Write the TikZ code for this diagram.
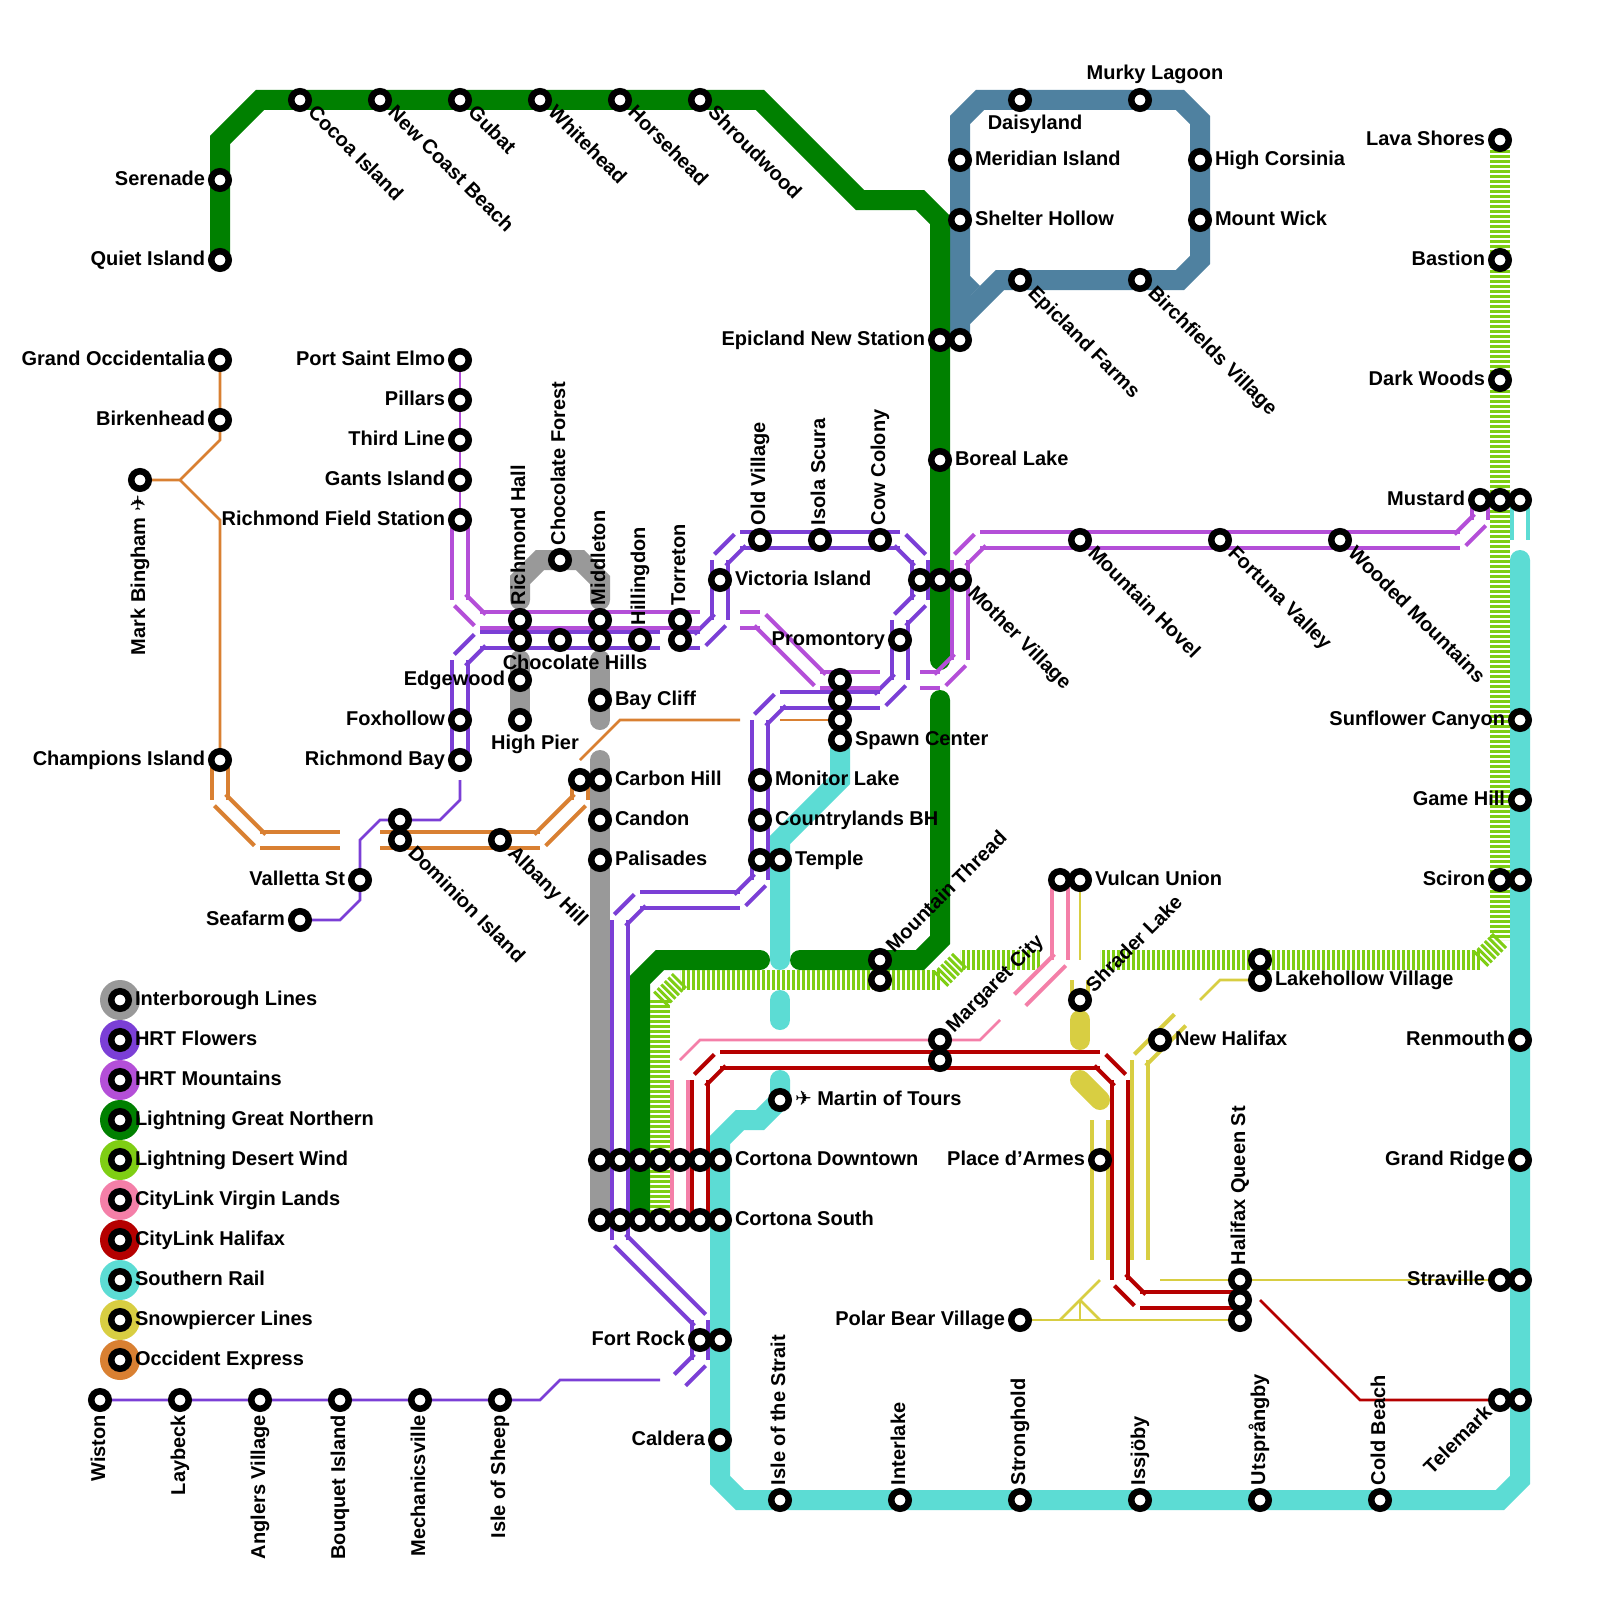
\documentclass[tikz,border=0pt]{standalone}
\usepackage{fontspec}
\setmainfont{Liberation Sans}
\newfontfamily\symfnt{DejaVu Sans}
\usetikzlibrary{calc,backgrounds}
\definecolor{cgrey}{HTML}{999999}
\definecolor{cflow}{HTML}{7B3FD6}
\definecolor{cmount}{HTML}{B44FD8}
\definecolor{cgn}{HTML}{008000}
\definecolor{cdw}{HTML}{7FCE14}
\definecolor{cvir}{HTML}{F47FA8}
\definecolor{chal}{HTML}{B50000}
\definecolor{csou}{HTML}{5CDCD4}
\definecolor{csno}{HTML}{D8CE42}
\definecolor{cocc}{HTML}{D98032}
\definecolor{cblu}{HTML}{4F81A0}
\tikzset{
  stn/.style={circle,draw=black,fill=white,line width=6.5pt,minimum size=17.5pt,inner sep=0pt,outer sep=0pt},
  lb/.style={inner sep=0pt,outer sep=0pt,font=\bfseries\fontsize{20}{24}\selectfont,text=black},
  R/.style={shift={(15,5.5)},anchor=base west},
  L/.style={shift={(-15,5.5)},anchor=base east},
  U/.style={shift={(5,-15)},rotate=90,anchor=base west},
  D/.style={shift={(5,15)},rotate=90,anchor=base east},
  DR/.style={shift={(7,14)},rotate=-45,anchor=base west},
  UR/.style={shift={(14,-7)},rotate=45,anchor=base west},
  DL/.style={shift={(-7,14)},rotate=45,anchor=base east},
  A/.style={shift={(15,-20.5)},anchor=base},
  B/.style={shift={(15,29)},anchor=base},
  thick rail/.style={line width=20pt,line join=miter},
  roundrail/.style={line width=20pt,line cap=round,line join=miter},
  hatch/.style={line width=20pt,cdw,dash pattern=on 3pt off 2pt},
  thin rail/.style={line width=2.6pt,line join=miter},
  two/.style={line width=4pt},
}
\newcommand\St[5]{\node[stn](#1) at (#2,#3){};\node[lb,#4](#1-l) at (#2,#3){#5};}
\newcommand\Sn[3]{\node[stn](#1) at (#2,#3){};}
\newcommand\pts[1]{\foreach \n/\x/\y in {#1}{\coordinate (\n) at (\x,\y);}}
\newcommand\rail[3]{\draw[#1] (#2.center) \foreach \p in {#3}{ -- (\p.center)};}
\newcommand\dbl[3]{\foreach \b [remember=\b as \a (initially #2)] in {#3}{%
  \draw[two,#1] ($(\a.center)!8pt!90:(\b.center)$) -- ($(\b.center)!8pt!-90:(\a.center)$);
  \draw[two,#1] ($(\a.center)!8pt!-90:(\b.center)$) -- ($(\b.center)!8pt!90:(\a.center)$);}}
\newcommand\hatseg[2]{\foreach \b [remember=\b as \a (initially #1)] in {#2}{%
  \draw[hatch] (\a.center) -- (\b.center);}}
\begin{document}
\begin{tikzpicture}[x=1pt,y=-1pt]
\useasboundingbox (0,0) rectangle (1600,1600);
% stations
\St{qi}{220}{260}{L}{Quiet Island}
\St{se}{220}{180}{L}{Serenade}
\St{coc}{300}{100}{DR}{Cocoa Island}
\St{ncb}{380}{100}{DR}{New Coast Beach}
\St{gub}{460}{100}{DR}{Gubat}
\St{whi}{540}{100}{DR}{Whitehead}
\St{hor}{620}{100}{DR}{Horsehead}
\St{shr}{700}{100}{DR}{Shroudwood}
\St{goc}{220}{360}{L}{Grand Occidentalia}
\St{bir}{220}{420}{L}{Birkenhead}
\St{cha}{220}{760}{L}{Champions Island}
\St{mab}{140}{480}{D}{Mark Bingham {\symfnt ✈}}
\St{pse}{460}{360}{L}{Port Saint Elmo}
\St{pil}{460}{400}{L}{Pillars}
\St{thl}{460}{440}{L}{Third Line}
\St{gan}{460}{480}{L}{Gants Island}
\St{rfs}{460}{520}{L}{Richmond Field Station}
\St{ric}{520}{620}{U}{Richmond Hall}
\Sn{ric2}{520}{640}
\St{chf}{560}{560}{U}{Chocolate Forest}
\St{mid}{600}{620}{U}{Middleton}
\Sn{mid2}{600}{640}
\St{chh}{560}{640}{B}{Chocolate Hills}
\St{hil}{640}{640}{U}{Hillingdon}
\St{tor}{680}{620}{U}{Torreton}
\Sn{tor2}{680}{640}
\St{edg}{520}{680}{L}{Edgewood}
\St{hip}{520}{720}{B}{High Pier}
\St{fox}{460}{720}{L}{Foxhollow}
\St{rib}{460}{760}{L}{Richmond Bay}
\St{bay}{600}{700}{R}{Bay Cliff}
\St{vic}{720}{580}{R}{Victoria Island}
\St{old}{760}{540}{U}{Old Village}
\St{iso}{820}{540}{U}{Isola Scura}
\St{cow}{880}{540}{U}{Cow Colony}
\Sn{mv1}{920}{580}
\Sn{mv2}{940}{580}
\St{mv3}{960}{580}{DR}{Mother Village}
\St{pro}{900}{640}{L}{Promontory}
\Sn{sp1}{840}{680}
\Sn{sp2}{840}{700}
\Sn{sp3}{840}{720}
\St{sp4}{840}{740}{R}{Spawn Center}
\St{car}{600}{780}{R}{Carbon Hill}
\Sn{car2}{580}{780}
\St{can}{600}{820}{R}{Candon}
\St{pal}{600}{860}{R}{Palisades}
\St{mon}{760}{780}{R}{Monitor Lake}
\St{cbh}{760}{820}{R}{Countrylands BH}
\Sn{tem2}{760}{860}
\St{tem}{780}{860}{R}{Temple}
\Sn{dom2}{400}{820}
\St{dom}{400}{840}{DR}{Dominion Island}
\St{alb}{500}{840}{DR}{Albany Hill}
\St{val}{360}{880}{L}{Valletta St}
\St{sea}{300}{920}{L}{Seafarm}
\St{mth}{880}{960}{UR}{Mountain Thread}
\Sn{mth2}{880}{980}
\St{mag}{940}{1040}{UR}{Margaret City}
\Sn{mag2}{940}{1060}
\Sn{vu1}{1060}{880}
\St{vu2}{1080}{880}{R}{Vulcan Union}
\St{shl}{1080}{1000}{UR}{Shrader Lake}
\St{neh}{1160}{1040}{R}{New Halifax}
\Sn{lak2}{1260}{960}
\St{lak}{1260}{980}{R}{Lakehollow Village}
\St{mot}{780}{1100}{R}{{\symfnt ✈} Martin of Tours}
\St{pla}{1100}{1160}{L}{Place d’Armes}
\St{pol}{1020}{1320}{L}{Polar Bear Village}
\St{hq1}{1240}{1280}{U}{Halifax Queen St}
\Sn{hq2}{1240}{1300}
\Sn{hq3}{1240}{1320}
\foreach \n/\x in {a/600,b/620,c/640,d/660,e/680,f/700}{\Sn{cd\n}{\x}{1160}\Sn{cs\n}{\x}{1220}}
\St{cd}{720}{1160}{R}{Cortona Downtown}
\St{cs}{720}{1220}{R}{Cortona South}
\St{for}{700}{1340}{L}{Fort Rock}
\Sn{for2}{720}{1340}
\St{cal}{720}{1440}{L}{Caldera}
\St{ist}{780}{1500}{U}{Isle of the Strait}
\St{int}{900}{1500}{U}{Interlake}
\St{str}{1020}{1500}{U}{Stronghold}
\St{iss}{1140}{1500}{U}{Issjöby}
\St{uts}{1260}{1500}{U}{Utsprångby}
\St{col}{1380}{1500}{U}{Cold Beach}
\St{tel}{1500}{1400}{DL}{Telemark}
\Sn{tel2}{1520}{1400}
\St{sta}{1500}{1280}{L}{Straville}
\Sn{sta2}{1520}{1280}
\St{gra}{1520}{1160}{L}{Grand Ridge}
\St{ren}{1520}{1040}{L}{Renmouth}
\St{sci}{1500}{880}{L}{Sciron}
\Sn{sci2}{1520}{880}
\St{gam}{1520}{800}{L}{Game Hill}
\St{sun}{1520}{720}{L}{Sunflower Canyon}
\St{mu1}{1480}{500}{L}{Mustard}
\Sn{mu2}{1500}{500}
\Sn{mu3}{1520}{500}
\St{dar}{1500}{380}{L}{Dark Woods}
\St{bas}{1500}{260}{L}{Bastion}
\St{lav}{1500}{140}{L}{Lava Shores}
\St{enw}{940}{340}{L}{Epicland New Station}
\Sn{enw2}{960}{340}
\St{bor}{940}{460}{R}{Boreal Lake}
\St{mei}{960}{160}{R}{Meridian Island}
\St{shh}{960}{220}{R}{Shelter Hollow}
\St{dai}{1020}{100}{B}{Daisyland}
\St{mur}{1140}{100}{A}{Murky Lagoon}
\St{hic}{1200}{160}{R}{High Corsinia}
\St{mow}{1200}{220}{R}{Mount Wick}
\St{epf}{1020}{280}{DR}{Epicland Farms}
\St{bic}{1140}{280}{DR}{Birchfields Village}
\St{mho}{1080}{540}{DR}{Mountain Hovel}
\St{fuv}{1220}{540}{DR}{Fortuna Valley}
\St{woo}{1340}{540}{DR}{Wooded Mountains}
\St{wis}{100}{1400}{D}{Wiston}
\St{lay}{180}{1400}{D}{Laybeck}
\St{ang}{260}{1400}{D}{Anglers Village}
\St{bou}{340}{1400}{D}{Bouquet Island}
\St{mec}{420}{1400}{D}{Mechanicsville}
\St{ios}{500}{1400}{D}{Isle of Sheep}
% bends and free ends
\pts{g1/220/140,g2/260/100,g3/760/100,g4/860/200,g5/920/200,g6/940/220,g7/940/660,g8/940/700,g9/940/940,g10/920/960,g11/800/960,g12/760/960,g13/660/960,g14/640/980,
 b1/960/120,b2/980/100,b3/1180/100,b4/1200/120,b5/1200/260,b6/1180/280,b7/1000/280,b8/960/320,
 ga1/520/600,ga2/520/580,ga3/540/560,ga4/580/560,ga5/600/580,ga6/600/600,ga7/520/660,ga8/600/660,ga9/600/720,ga10/600/760,
 d1/1500/940,d2/1480/960,d3/1100/960,d4/1040/960,d5/960/960,d6/940/980,d7/680/980,d8/660/1000,
 f1/680/1380,f2/700/1360,f3/700/1320,f4/620/1240,f5/620/920,f6/640/900,f7/740/900,f8/760/880,f9/760/720,f10/780/700,f11/880/700,f12/900/680,f13/900/620,f14/920/600,f15/920/560,f16/900/540,f17/740/540,f18/720/560,f19/720/620,f20/700/640,f21/660/640,f22/480/640,f23/460/660,
 f30/540/1400,f31/560/1380,f32/660/1380,f33/460/780,f34/460/800,f35/440/820,f36/380/820,f37/360/840,f38/360/900,f39/340/920,
 m1/460/600,m2/480/620,m3/700/620,m4/740/620,m5/760/620,m6/820/680,m7/880/680,m8/920/680,m9/940/680,m10/960/660,m11/960/560,m12/980/540,m13/1460/540,m14/1480/520,
 o1/220/800,o2/260/840,o3/340/840,o4/380/840,o5/540/840,o6/580/800,o7/580/760,o8/620/720,o9/740/720,o10/780/720,o11/220/440,o12/180/480,o13/220/520,
 h1/1140/1300,h2/1120/1280,h3/1120/1080,h4/1100/1060,h5/720/1060,h6/700/1080,h7/1260/1300,h8/1360/1400,
 v1/1060/960,v2/1020/1000,v3/1000/1020,v4/980/1040,v5/700/1040,v6/680/1060,v7/680/1080,
 t1/840/780,t2/780/840,t3/780/960,t4/780/1000,t5/780/1020,t6/780/1080,t7/760/1120,t8/740/1120,t9/720/1140,t10/720/1480,t11/740/1500,t12/1500/1500,t13/1520/1480,t14/1520/560,t15/1520/540,
 y1/1080/960,y2/1080/980,y3/1080/1020,y4/1080/1040,y5/1080/1080,y6/1100/1100,y7/1100/1120,y8/1100/1260,y9/1100/1280,y10/1060/1320,y11/1080/1300,y12/1080/1320,y13/1100/1320,y14/1220/980,y15/1200/1000,y16/1180/1020,y17/1140/1060,y18/1140/1260,y19/1160/1280}
\begin{pgfonlayer}{background}
\fill[white] (0,0) rectangle (1600,1600);
% steel-blue loop
\rail{thick rail,cblu}{enw2}{mei,b1,b2,dai,mur,b3,b4,hic,mow,b5,b6,bic,epf,b7,b8,enw2}
\fill[cblu] (970,276) -- (980,286) -- (968,298) -- cycle;
% interborough
\rail{roundrail,cgrey}{ga1}{ga2,ga3,chf,ga4,ga5,ga6}
\rail{roundrail,cgrey}{ga7}{edg,hip}
\rail{roundrail,cgrey}{ga8}{bay,ga9}
\rail{roundrail,cgrey}{ga10}{car,can,pal,cda,csa}
% great northern
\rail{roundrail,cgn}{qi}{se,g1,g2,coc,ncb,gub,whi,hor,shr,g3,g4,g5,g6,enw,bor,g7}
\rail{roundrail,cgn}{g8}{g9,g10,mth,g11}
\rail{roundrail,cgn}{g12}{g13,g14,cdc,csc}
% desert wind
\hatseg{lav}{bas,dar,mu2,sci,d1,d2}
\hatseg{d2}{lak2,d3}
\hatseg{d4}{d5,d6,mth2,d7,d8,cdd,csd}
% southern rail
\rail{roundrail,csou}{sp4}{t1,t2,tem,t3}
\rail{roundrail,csou}{t4}{t5}
\rail{roundrail,csou}{t6}{mot,t7,t8,t9,cd,cs,for2,cal,t10,t11,ist,int,str,iss,uts,col,t12,t13,tel2,sta2,gra,ren,sci2,gam,sun,t14}
\dbl{csou}{mu3}{t15}
% flowers
\dbl{cflow}{f1}{f2,for,f3,f4,csb,cdb,f5,f6,f7,f8,tem2,cbh,mon,f9,f10,f11,f12,pro,f13,f14,mv1,f15,f16,cow,iso,old,f17,f18,vic,f19,f20,tor2}
\dbl{cflow}{f21}{hil,mid2,chh,ric2,f22,f23,fox,rib}
\rail{thin rail,cflow}{wis}{lay,ang,bou,mec,ios,f30,f31,f32}
\rail{thin rail,cflow}{f33}{f34,f35,dom2,f36,f37,val,f38,f39,sea}
% mountains
\rail{thin rail,cmount}{pse}{pil,thl,gan,rfs}
\dbl{cmount}{rfs}{m1,m2,ric,mid,tor,m3}
\dbl{cmount}{m4}{m5,m6,sp1,m7}
\dbl{cmount}{m8}{m9,m10,mv3,m11,m12,mho,fuv,woo,m13,m14,mu1}
% occident
\rail{thin rail,cocc}{goc}{bir,o11,o12,mab}
\rail{thin rail,cocc}{o12}{o13,cha}
\dbl{cocc}{cha}{o1,o2,o3}
\dbl{cocc}{o4}{dom,alb,o5,o6,car2}
\rail{thin rail,cocc}{o7}{o8,o9}
\rail{thin rail,cocc}{o10}{sp3}
% halifax
\dbl{chal}{hq2}{h1,h2,h3,h4,mag2,h5,h6,cdf,csf}
\rail{thin rail,chal}{h7}{h8,tel}
% virgin lands
\dbl{cvir}{vu1}{v1,v2}
\rail{thin rail,cvir}{v3}{v4,mag,v5,v6}
\dbl{cvir}{v7}{cde,cse}
% snowpiercer
\rail{thin rail,csno}{vu2}{y1}
\dbl{csno}{y2}{shl}
\rail{roundrail,csno}{y3}{y4}
\rail{roundrail,csno}{y5}{y6}
\dbl{csno}{y7}{pla,y8}
\rail{thin rail,csno}{y9}{y10}
\rail{thin rail,csno}{pol}{y10,y12,y13,hq3}
\rail{thin rail,csno}{y11}{y12}
\rail{thin rail,csno}{y11}{y13}
\rail{thin rail,csno}{lak}{y14,y15}
\dbl{csno}{y16}{y17,y18}
\rail{thin rail,csno}{y19}{hq1,sta}
\end{pgfonlayer}
% legend
\foreach \i/\c/\t in {0/cgrey/Interborough Lines,1/cflow/HRT Flowers,2/cmount/HRT Mountains,3/cgn/Lightning Great Northern,4/cdw/Lightning Desert Wind,5/cvir/CityLink Virgin Lands,6/chal/CityLink Halifax,7/csou/Southern Rail,8/csno/Snowpiercer Lines,9/cocc/Occident Express}{
  \node[circle,fill=\c,minimum size=40pt,inner sep=0pt,outer sep=0pt](lgd\i) at (120,1000+40*\i){};
  \node[stn](lgs\i) at (lgd\i.center){};
  \node[lb,anchor=base west](lgl\i) at (135,1005.5+40*\i){\t};
}
\end{tikzpicture}
\end{document}
